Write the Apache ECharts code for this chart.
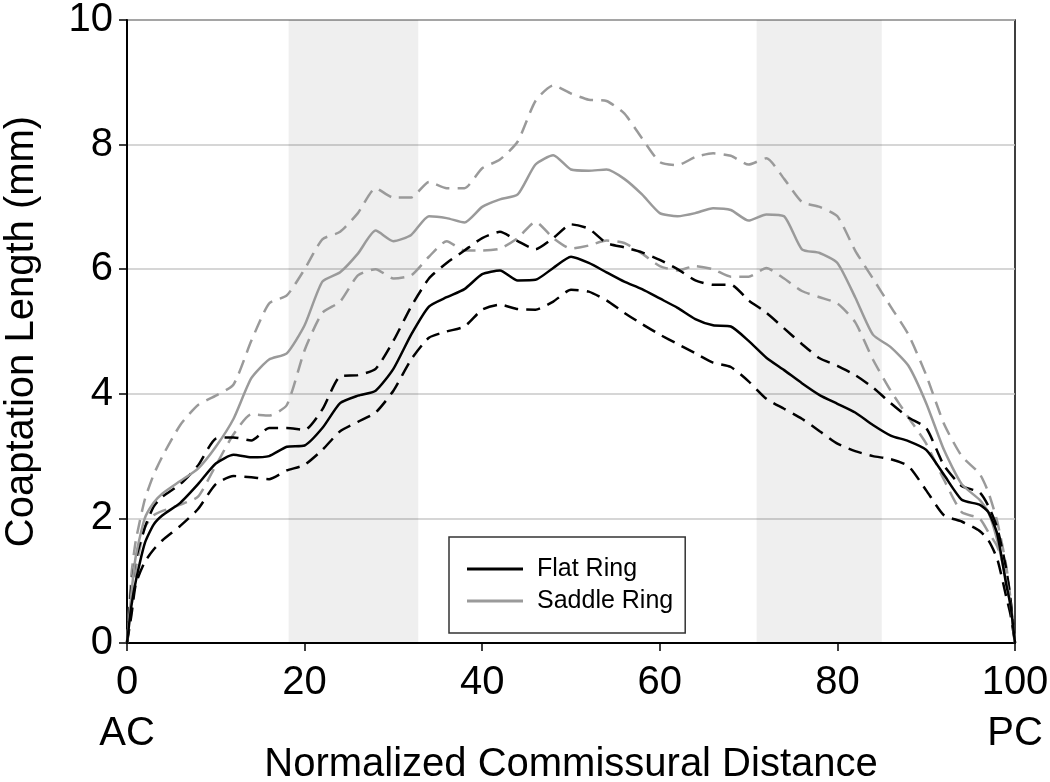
<!DOCTYPE html>
<html>
<head>
<meta charset="utf-8">
<script src="https://cdn.jsdelivr.net/npm/echarts@6/dist/echarts.min.js"></script>
<style>html,body{margin:0;padding:0;background:#fff}#c{width:1050px;height:782px}</style>
</head>
<body>
<div id="c"></div>
<script>
// Normalized commissural distance (x)
const xs = [0, 0.5, 1, 2, 3, 4, 6, 8, 10, 12, 14, 16, 18, 20, 22, 24, 26, 28, 30, 32, 34, 36, 38, 40, 42, 44, 46, 48, 50, 52, 54, 56, 58, 60, 62, 64, 66, 68, 70, 72, 74, 76, 78, 80, 82, 84, 86, 88, 90, 92, 94, 96, 97, 98, 99, 99.5, 100];

// Flat Ring: mean, upper and lower bounds (mm)
const flatMean  = [0, 0.6, 1.0, 1.6, 1.9, 2.05, 2.25, 2.55, 2.88, 3.02, 2.98, 3.0, 3.15, 3.17, 3.45, 3.85, 3.97, 4.05, 4.4, 4.95, 5.4, 5.55, 5.68, 5.92, 5.98, 5.82, 5.83, 6.02, 6.2, 6.1, 5.95, 5.8, 5.68, 5.53, 5.38, 5.2, 5.1, 5.08, 4.85, 4.58, 4.38, 4.17, 3.98, 3.84, 3.7, 3.5, 3.33, 3.24, 3.1, 2.7, 2.3, 2.22, 2.1, 1.75, 0.95, 0.6, 0];
const flatUpper = [0, 0.9, 1.35, 1.85, 2.19, 2.35, 2.55, 2.85, 3.28, 3.3, 3.25, 3.45, 3.45, 3.42, 3.75, 4.28, 4.3, 4.4, 4.85, 5.4, 5.85, 6.1, 6.3, 6.5, 6.6, 6.45, 6.32, 6.5, 6.72, 6.65, 6.42, 6.35, 6.27, 6.15, 6.0, 5.82, 5.75, 5.75, 5.5, 5.3, 5.05, 4.8, 4.57, 4.45, 4.3, 4.1, 3.85, 3.62, 3.45, 2.85, 2.52, 2.42, 2.2, 1.85, 1.2, 0.7, 0];
const flatLower = [0, 0.45, 0.95, 1.3, 1.5, 1.65, 1.88, 2.15, 2.55, 2.68, 2.66, 2.63, 2.77, 2.86, 3.1, 3.4, 3.55, 3.7, 4.05, 4.55, 4.9, 5.0, 5.08, 5.35, 5.43, 5.36, 5.35, 5.48, 5.67, 5.64, 5.5, 5.3, 5.12, 4.95, 4.8, 4.65, 4.5, 4.43, 4.2, 3.92, 3.76, 3.6, 3.4, 3.2, 3.08, 3.0, 2.95, 2.84, 2.45, 2.05, 1.95, 1.8, 1.65, 1.35, 0.75, 0.45, 0];

// Saddle Ring: mean, upper and lower bounds (mm)
const saddleMean  = [0, 0.8, 1.4, 2.0, 2.25, 2.4, 2.6, 2.8, 3.15, 3.6, 4.25, 4.55, 4.65, 5.1, 5.8, 5.95, 6.25, 6.62, 6.45, 6.55, 6.85, 6.82, 6.75, 7.0, 7.12, 7.2, 7.68, 7.83, 7.6, 7.58, 7.6, 7.45, 7.2, 6.9, 6.85, 6.9, 6.98, 6.95, 6.78, 6.88, 6.85, 6.32, 6.26, 6.1, 5.55, 4.95, 4.75, 4.45, 3.85, 3.1, 2.55, 2.3, 2.1, 1.65, 1.0, 0.6, 0];
const saddleUpper = [0, 1.1, 1.65, 2.3, 2.7, 3.0, 3.5, 3.82, 3.97, 4.15, 4.85, 5.45, 5.58, 6.0, 6.48, 6.6, 6.9, 7.3, 7.15, 7.15, 7.4, 7.3, 7.3, 7.62, 7.76, 8.05, 8.7, 8.95, 8.82, 8.72, 8.7, 8.5, 8.1, 7.72, 7.67, 7.8, 7.86, 7.82, 7.68, 7.78, 7.45, 7.08, 7.0, 6.85, 6.3, 5.85, 5.4, 4.95, 4.3, 3.52, 3.0, 2.72, 2.42, 1.95, 1.25, 0.7, 0];
const saddleLower = [0, 0.6, 1.2, 1.85, 2.05, 2.12, 2.22, 2.35, 2.85, 3.35, 3.67, 3.65, 3.82, 4.7, 5.3, 5.48, 5.9, 6.0, 5.85, 5.9, 6.2, 6.45, 6.3, 6.3, 6.33, 6.5, 6.76, 6.5, 6.33, 6.38, 6.46, 6.42, 6.25, 6.05, 5.98, 6.05, 6.0, 5.88, 5.88, 6.02, 5.85, 5.65, 5.55, 5.45, 5.15, 4.55, 4.05, 3.62, 3.2, 2.62, 2.1, 2.0, 1.78, 1.55, 1.1, 0.6, 0];

// Shaded regions (x ranges)
const bandA = [18.2, 32.8];
const bandB = [70.9, 85.0];

const seriesNames = ['Flat Ring', 'Saddle Ring'];
const xTicks = {min: 0, max: 100, interval: 20};
const yTicks = {min: 0, max: 10, interval: 2};

const pair = ys => xs.map((x, i) => [x, ys[i]]);
const FONT = 'Liberation Sans, Arial, sans-serif';
const BLACK = '#000000', GRAY = '#9a9a9a';

function lineSeries(name, ys, color, dashed) {
  return {
    name: name, type: 'line', data: pair(ys), symbol: 'none', showSymbol: false,
    smooth: 0.2, silent: true, z: dashed ? 3 : 4,
    lineStyle: {color: color, width: 2.5, type: dashed ? [14, 8] : 'solid'},
    itemStyle: {color: color}
  };
}

const chart = echarts.init(document.getElementById('c'), null, {renderer: 'canvas'});
chart.setOption({
  animation: false,
  backgroundColor: '#ffffff',
  textStyle: {fontFamily: FONT},
  grid: {left: 127, right: 35, top: 20, bottom: 139, show: true, borderColor: '#000', borderWidth: 1.5,
         backgroundColor: 'transparent', containLabel: false, outerBoundsMode: 'none'},
  legend: {
    show: true, orient: 'vertical', left: 449, top: 537,
    data: [{name: seriesNames[0], icon: 'rect'}, {name: seriesNames[1], icon: 'rect'}],
    itemWidth: 56, itemHeight: 3, itemGap: 4,
    padding: [18, 12, 18, 18],
    borderColor: '#333', borderWidth: 1.5, backgroundColor: '#fff',
    textStyle: {fontFamily: FONT, fontSize: 25, color: '#000', lineHeight: 28, padding: [0, 0, 0, 9]},
    selectedMode: false
  },
  xAxis: {
    type: 'value', min: xTicks.min, max: xTicks.max, interval: xTicks.interval,
    name: 'Normalized Commissural Distance', nameLocation: 'middle', nameGap: 102, nameMoveOverlap: false,
    nameTextStyle: {fontFamily: FONT, fontSize: 40, color: '#000'},
    axisLine: {show: true, lineStyle: {color: '#000', width: 2}},
    axisTick: {show: true, inside: false, length: 8, lineStyle: {color: '#000', width: 1.5}},
    axisLabel: {
      fontFamily: FONT, fontSize: 40, color: '#000', margin: 14, lineHeight: 51,
      formatter: v => v === 0 ? '0\nAC' : (v === 100 ? '100\nPC' : String(v))
    },
    splitLine: {show: false}
  },
  yAxis: {
    type: 'value', min: yTicks.min, max: yTicks.max, interval: yTicks.interval,
    name: 'Coaptation Length (mm)', nameLocation: 'middle', nameGap: 85, nameRotate: 90, nameMoveOverlap: false,
    nameTextStyle: {fontFamily: FONT, fontSize: 40, color: '#000'},
    axisLine: {show: true, lineStyle: {color: '#000', width: 2}},
    axisTick: {show: true, inside: false, length: 8, lineStyle: {color: '#000', width: 1.5}},
    axisLabel: {fontFamily: FONT, fontSize: 40, color: '#000', margin: 14},
    splitLine: {show: true, lineStyle: {color: '#c8c8c8', width: 1.5}}
  },
  series: [
    {
      name: 'bands', type: 'line', data: [], silent: true, z: 1,
      markArea: {
        silent: true,
        itemStyle: {color: 'rgba(0,0,0,0.063)'},
        data: [
          [{xAxis: bandA[0]}, {xAxis: bandA[1]}],
          [{xAxis: bandB[0]}, {xAxis: bandB[1]}]
        ]
      }
    },
    lineSeries('Saddle Ring upper', saddleUpper, GRAY, true),
    lineSeries('Saddle Ring lower', saddleLower, GRAY, true),
    lineSeries('Flat Ring upper', flatUpper, BLACK, true),
    lineSeries('Flat Ring lower', flatLower, BLACK, true),
    lineSeries(seriesNames[1], saddleMean, GRAY, false),
    lineSeries(seriesNames[0], flatMean, BLACK, false)
  ]
});
</script>
</body>
</html>
